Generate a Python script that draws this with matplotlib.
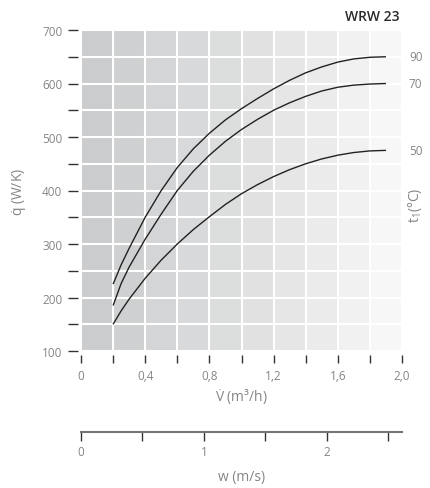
import numpy as np
import matplotlib
matplotlib.use("Agg")
import matplotlib.pyplot as plt
from matplotlib.ticker import MultipleLocator, FixedLocator

plt.rcParams['font.family'] = ['Open Sans', 'DejaVu Sans']
plt.rcParams['mathtext.default'] = 'regular'

# Data
flow = [0.2, 0.25, 0.3, 0.4, 0.5, 0.6, 0.7, 0.8, 0.9, 1.0, 1.1, 1.2, 1.3, 1.4, 1.5, 1.6, 1.7, 1.8, 1.9]
q_90 = [225, 261, 292, 350, 400, 443, 478, 507, 532, 553, 572, 590, 606, 620, 631, 640, 646, 649, 650]
q_70 = [185, 226, 257, 309, 356, 400, 436, 466, 492, 514, 533, 550, 564, 576, 586, 593, 597, 599, 600]
q_50 = [150, 175, 197, 236, 270, 300, 327, 351, 374, 394, 411, 426, 439, 450, 459, 466, 471, 474, 475]
temps = ['90', '70', '50']
x_ticks = [0, 0.2, 0.4, 0.6, 0.8, 1.0, 1.2, 1.4, 1.6, 1.8, 2.0]
x_labels = ['0', '', '0,4', '', '0,8', '', '1,2', '', '1,6', '', '2,0']
w_ticks = [0, 0.5, 1, 1.5, 2, 2.5]
w_labels = ['0', '', '1', '', '2', '']
w_max = 2.61

col_shades = ['#cbcccd', '#cfd0d1', '#d4d5d6', '#d8d9da', '#dcdddd',
              '#e1e1e2', '#e6e6e7', '#ebebec', '#f1f1f1', '#f7f7f7']

grey = '#858585'
fig = plt.figure(figsize=(4.30, 4.89), dpi=100)
ax = fig.add_axes([81/430, 137/489, 321/430, 321/489])

for i, c in enumerate(col_shades):
    ax.axvspan(x_ticks[i], x_ticks[i + 1], color=c, lw=0, zorder=0)

ax.set_xlim(0, 2.0)
ax.set_ylim(100, 700)
ax.set_xticks(x_ticks)
ax.set_xticklabels(x_labels)
ax.yaxis.set_major_locator(MultipleLocator(100))
ax.yaxis.set_minor_locator(MultipleLocator(50))
ax.grid(True, which='both', color='white', lw=1.5, zorder=1)
ax.set_axisbelow(True)

for s in ax.spines.values():
    s.set_visible(False)
ax.spines['left'].set_position(('outward', 2.5))
ax.spines['bottom'].set_position(('outward', 3))
ax.tick_params(axis='x', direction='out', length=6, width=1, color='#333333',
               labelsize=8.5, labelcolor=grey, pad=4)
ax.tick_params(axis='y', which='both', direction='out', length=7, width=1,
               color='#333333', labelsize=8.5, labelcolor=grey, pad=4)

for q in (q_90, q_70, q_50):
    ax.plot(flow, q, color='#222222', lw=1.0, zorder=3,
            solid_joinstyle='round', solid_capstyle='butt')

for t, q in zip(temps, (q_90, q_70, q_50)):
    ax.annotate(t, xy=(1, q[-1]), xycoords=('axes fraction', 'data'),
                xytext=(5, 0), textcoords='offset points',
                ha='left', va='center', fontsize=8.5, color=grey)

ax.set_ylabel(r'$\dot{q}$ (W/K)', fontsize=10, color=grey, labelpad=9)
ax.set_xlabel(r'$\dot{V}$ (m³/h)', fontsize=10, color=grey, labelpad=3)
fig.text(415/430, 1 - 205/489, r't$_1$(°C)', rotation=90, fontsize=10, color=grey,
         ha='center', va='center')
fig.text(400/430, 1 - 17/489, 'WRW 23', fontsize=10, color='#2a2a2a',
         ha='right', va='center', fontweight='semibold')

# velocity scale
ax2 = fig.add_axes([81/430, 56/489, 321/430, 0.0001])
ax2.set_xlim(0, w_max)
ax2.set_ylim(0, 1)
ax2.set_yticks([])
ax2.patch.set_visible(False)
for k in ('top', 'left', 'right'):
    ax2.spines[k].set_visible(False)
ax2.spines['bottom'].set_color('#777777')
ax2.spines['bottom'].set_linewidth(1.5)
ax2.xaxis.set_major_locator(FixedLocator(w_ticks))
ax2.set_xticklabels(w_labels)
ax2.tick_params(axis='x', direction='out', length=6.5, width=1, color='#333333',
                labelsize=8.5, labelcolor=grey, pad=3)
ax2.set_xlabel('w (m/s)', fontsize=10, color=grey, labelpad=8)

fig.savefig('out.png', dpi=100)
